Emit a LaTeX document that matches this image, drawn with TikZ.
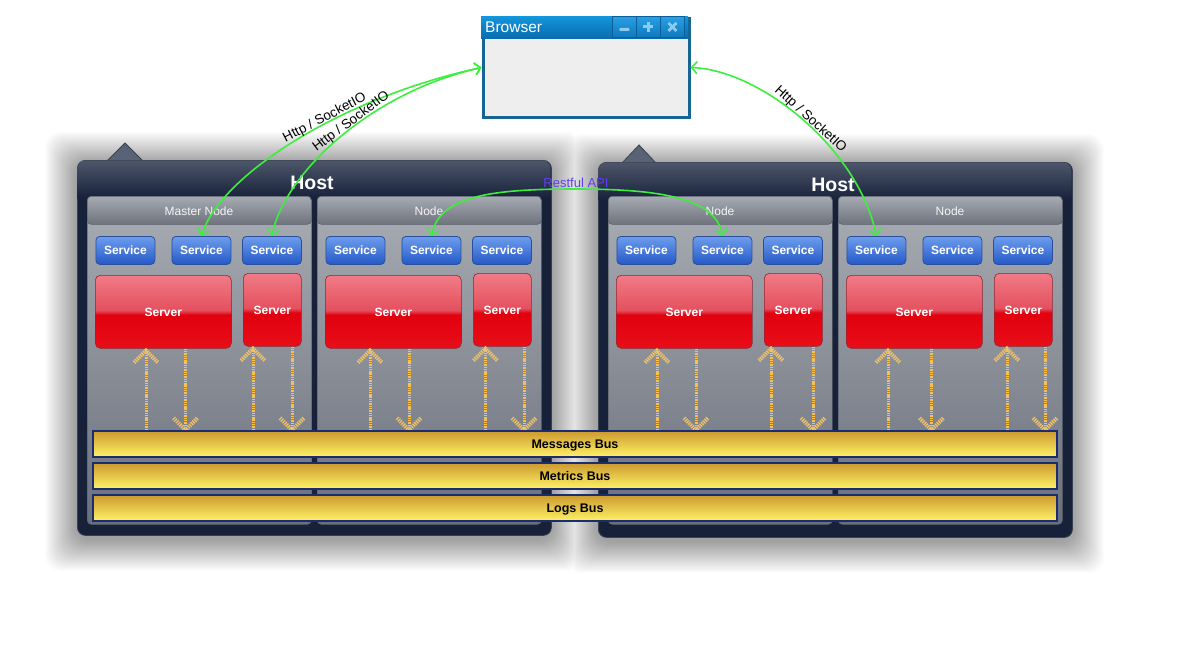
\documentclass[tikz,border=0pt]{standalone}
\usepackage{fontspec}
\setmainfont{Liberation Sans}
\usetikzlibrary{arrows.meta,calc}
\definecolor{hostdark}{HTML}{17213A}
\definecolor{hosttop}{HTML}{4E576A}
\definecolor{hostline}{HTML}{3A4252}
\definecolor{tabfill}{HTML}{5A6275}
\definecolor{headtop}{HTML}{A6AAB2}
\definecolor{headbot}{HTML}{6E737D}
\definecolor{bodytop}{HTML}{A9ADB4}
\definecolor{bodybot}{HTML}{6A707B}
\definecolor{panelline}{HTML}{5C626E}
\definecolor{svctop}{HTML}{6E9DEC}
\definecolor{svcbot}{HTML}{2459C8}
\definecolor{svcborder}{HTML}{2B4F9A}
\definecolor{srvtop}{HTML}{F07B86}
\definecolor{srvhigh}{HTML}{E4505E}
\definecolor{srvlow}{HTML}{E1000E}
\definecolor{srvbot}{HTML}{E80E18}
\definecolor{srvborder}{HTML}{8A2A34}
\definecolor{bustop}{HTML}{CC9A30}
\definecolor{busbot}{HTML}{FFF266}
\definecolor{busborder}{HTML}{1C2C70}
\definecolor{flowcol}{HTML}{FBC052}
\definecolor{flowhd}{HTML}{EEC068}
\definecolor{linkgreen}{HTML}{3EEE3E}
\definecolor{restcol}{HTML}{6040F0}
\definecolor{brborder}{HTML}{176591}
\definecolor{brbody}{HTML}{EEEEEE}
\definecolor{titletop}{HTML}{1496DC}
\definecolor{titlebot}{HTML}{0A6CB0}
\definecolor{btntop}{HTML}{2AA0E4}
\definecolor{btnbot}{HTML}{0E78BE}
\definecolor{btnsep}{HTML}{0B5E98}
\definecolor{btnsym}{HTML}{8CCBF0}
\pgfdeclareverticalshading{srvshade}{100bp}{color(0bp)=(srvbot); color(25bp)=(srvbot); color(48bp)=(srvlow); color(51bp)=(srvhigh); color(75bp)=(srvtop); color(100bp)=(srvtop)}
\newcommand{\npanel}[7]{%
  \node[panelbody] (#1) at (#2,196) {};
  \node[panelhead] (#1h) at (#2,196) {};
  \node[paneltitle] (#1t) at ({#2+112},211) {#3};
  \node[svc] (#1s1) at ({#2+8.5},236) {Service};
  \node[svc] (#1s2) at ({#2+84.5},236) {Service};
  \node[svc] (#1s3) at ({#2+155},236) {Service};
  \node[srvbig] (#1r1) at ({#2+8},275) {Server};
  \node[srvsmall] (#1r2) at ({#2+156},273) {Server};
  \coordinate (#1u1) at ({#2+#4},0 |- #1r1.south);
  \coordinate (#1d1) at ({#2+#5},0 |- bustop);
  \coordinate (#1u2) at ({#2+#6},0 |- #1r2.south);
  \coordinate (#1d2) at ({#2+#7},0 |- bustop);
  \draw[flow] (#1u1 |- bustop) -- ([yshift=-2pt]#1u1);
  \draw[flowhead] ($(#1u1)+(-12,14)$) -- ([yshift=-2pt]#1u1) -- ($(#1u1)+(12,14)$);
  \draw[flow] (#1d1 |- #1r1.south) -- (#1d1);
  \draw[flowhead] ($(#1d1)+(-12,-12)$) -- (#1d1) -- ($(#1d1)+(12,-12)$);
  \draw[flow] (#1u2 |- bustop) -- ([yshift=-2pt]#1u2);
  \draw[flowhead] ($(#1u2)+(-12,14)$) -- ([yshift=-2pt]#1u2) -- ($(#1u2)+(12,14)$);
  \draw[flow] (#1d2 |- #1r2.south) -- (#1d2);
  \draw[flowhead] ($(#1d2)+(-12,-12)$) -- (#1d2) -- ($(#1d2)+(12,-12)$);
}
\begin{document}
\begin{tikzpicture}[x=1pt,y=-1pt,
  hostbox/.style={draw=hostline, line width=0.8pt, fill=hostdark, rounded corners=8pt, anchor=north west, minimum width=474pt, minimum height=375pt, inner sep=0pt},
  hosttitle/.style={text=white, font=\fontsize{19.5}{22}\selectfont\bfseries, inner sep=0pt, text height=14pt, text depth=0pt},
  panelbody/.style={draw=panelline, line width=0.6pt, top color=bodytop, bottom color=bodybot, rounded corners=4pt, anchor=north west, minimum width=224pt, minimum height=328pt, inner sep=0pt},
  panelhead/.style={draw=panelline, line width=0.6pt, top color=headtop, bottom color=headbot, rounded corners=4pt, anchor=north west, minimum width=224pt, minimum height=28pt, inner sep=0pt},
  paneltitle/.style={text=white!92!gray, font=\fontsize{12}{14}\selectfont, inner sep=0pt, text height=8.6pt, text depth=0pt},
  svc/.style={draw=svcborder, line width=0.8pt, rounded corners=4pt, top color=svctop, bottom color=svcbot, anchor=north west, minimum width=59pt, minimum height=28pt, inner sep=0pt, text=white, font=\fontsize{12}{14}\selectfont\bfseries, text height=8.6pt, text depth=0pt},
  srvbig/.style={draw=srvborder, line width=0.6pt, rounded corners=5pt, shading=srvshade, anchor=north west, minimum width=136pt, minimum height=73pt, inner sep=0pt, text=white, font=\fontsize{12}{14}\selectfont\bfseries, text height=8.6pt, text depth=0pt},
  srvsmall/.style={srvbig, minimum width=58pt},
  bus/.style={draw=busborder, line width=2pt, top color=bustop, bottom color=busbot, minimum width=964pt, minimum height=26pt, inner sep=0pt, font=\fontsize{12.5}{14}\selectfont\bfseries, text height=9pt, text depth=0pt},
  flow/.style={draw=flowcol, line width=3pt, dash pattern=on 1.4pt off 0.9pt},
  flowhead/.style={draw=flowhd, line width=4pt, dash pattern=on 1.4pt off 0.9pt},
  link/.style={draw=linkgreen, line width=1.6pt, {Straight Barb[length=5.5pt,width=12pt]}-{Straight Barb[length=5.5pt,width=12pt]}},
  linklabel/.style={text=black, font=\fontsize{13.5}{15}\selectfont, inner sep=1pt, text height=9.7pt, text depth=0pt},
  btn/.style={draw=btnsep, line width=0.8pt, top color=btntop, bottom color=btnbot, anchor=north west, minimum width=24pt, minimum height=21pt, inner sep=0pt}
]
\useasboundingbox (0,0) rectangle (1194,665);
\fill[white] (0,0) rectangle (1194,665);
% glow around the hosts
\begin{scope}
  \clip (0,0) rectangle (574.5,665);
  \foreach \i in {1,...,32}{
    \fill[black, opacity=0.013, rounded corners=16pt] ({77-\i},{160-\i+4}) rectangle ({551+\i},{535+\i+4});
  }
\end{scope}
\begin{scope}
  \clip (574.5,0) rectangle (1194,665);
  \foreach \i in {1,...,32}{
    \fill[black, opacity=0.013, rounded corners=16pt] ({598-\i},{162-\i+4}) rectangle ({1072+\i},{537+\i+4});
  }
\end{scope}
\coordinate (bustop) at (0,430);
% host 1
\filldraw[fill=tabfill, draw=hostline, line width=0.8pt] (107,161) -- (125,143) -- (143,161) -- cycle;
\node[hostbox] (host1) at (77,160) {};
\begin{scope}
  \clip[rounded corners=8pt] (77.5,160.5) rectangle (550.5,534.5);
  \shade[top color=hosttop, bottom color=hostdark] (77,160) rectangle (551,198);
\end{scope}
\node[hosttitle] (host1t) at (312,182) {Host};
% host 2
\filldraw[fill=tabfill, draw=hostline, line width=0.8pt] (622,163) -- (639,145) -- (656,163) -- cycle;
\node[hostbox] (host2) at (598,162) {};
\begin{scope}
  \clip[rounded corners=8pt] (598.5,162.5) rectangle (1071.5,536.5);
  \shade[top color=hosttop, bottom color=hostdark] (598,162) rectangle (1072,200);
\end{scope}
\node[hosttitle] (host2t) at (833,184) {Host};
% node panels
\npanel{hA}{87}{Master Node}{59}{98.5}{166}{205}
\npanel{hB}{317}{Node}{53}{92}{168.5}{207}
\npanel{hC}{608}{Node}{49}{88}{163}{205}
\npanel{hD}{838}{Node}{50}{93.5}{169}{207}
% buses
\node[bus] (msgbus) at (575,444) {Messages Bus};
\node[bus] (metbus) at (575,476) {Metrics Bus};
\node[bus] (logbus) at (575,508) {Logs Bus};
% browser
\node[draw=brborder, line width=3pt, fill=brbody, anchor=north west, minimum width=206pt, minimum height=99pt, inner sep=0pt] (browser) at (481.5,16.5) {};
\shade[top color=titletop, bottom color=titlebot] (481,16) rectangle (688,38);
\node[anchor=west, text=white, font=\fontsize{15.5}{18}\selectfont, inner sep=0pt] (brtitle) at (485,27) {Browser};
\node[btn] (bmin) at (612,16) {};
\node[btn] (bmax) at (636,16) {};
\node[btn] (bclose) at (660,16) {};
\fill[btnsym, rounded corners=0.8pt] ($(bmin.center)+(-5,1)$) rectangle ($(bmin.center)+(5,4)$);
\fill[btnsym] ($(bmax.center)+(-5,-1.5)$) rectangle ($(bmax.center)+(5,1.5)$);
\fill[btnsym] ($(bmax.center)+(-1.5,-5)$) rectangle ($(bmax.center)+(1.5,5)$);
\draw[btnsym, line width=2.8pt] ($(bclose.center)+(-4,-4)$) -- ($(bclose.center)+(4,4)$);
\draw[btnsym, line width=2.8pt] ($(bclose.center)+(-4,4)$) -- ($(bclose.center)+(4,-4)$);
% links
\draw[link] (hAs2.north) .. controls (220,176) and (340,98) .. (browser.west)
  node[linklabel, pos=0.6, sloped, above] (lab1) {Http / SocketIO};
\draw[link] (hAs3.north) .. controls (285,172) and (372,92) .. (browser.west)
  node[linklabel, pos=0.56, sloped, above] (lab2) {Http / SocketIO};
\draw[link] (browser.east) .. controls (760,70) and (858,148) .. (hDs1.north)
  node[linklabel, pos=0.52, sloped, above] (lab3) {Http / SocketIO};
\draw[link] (hBs2.north) .. controls (440,196) and (490,189) .. (576,189)
  node[above, text=restcol, font=\fontsize{13}{15}\selectfont, inner sep=1pt] (lab4) {Restful API}
  .. controls (660,189) and (716,198) .. (hCs2.north);
\end{tikzpicture}
\end{document}
